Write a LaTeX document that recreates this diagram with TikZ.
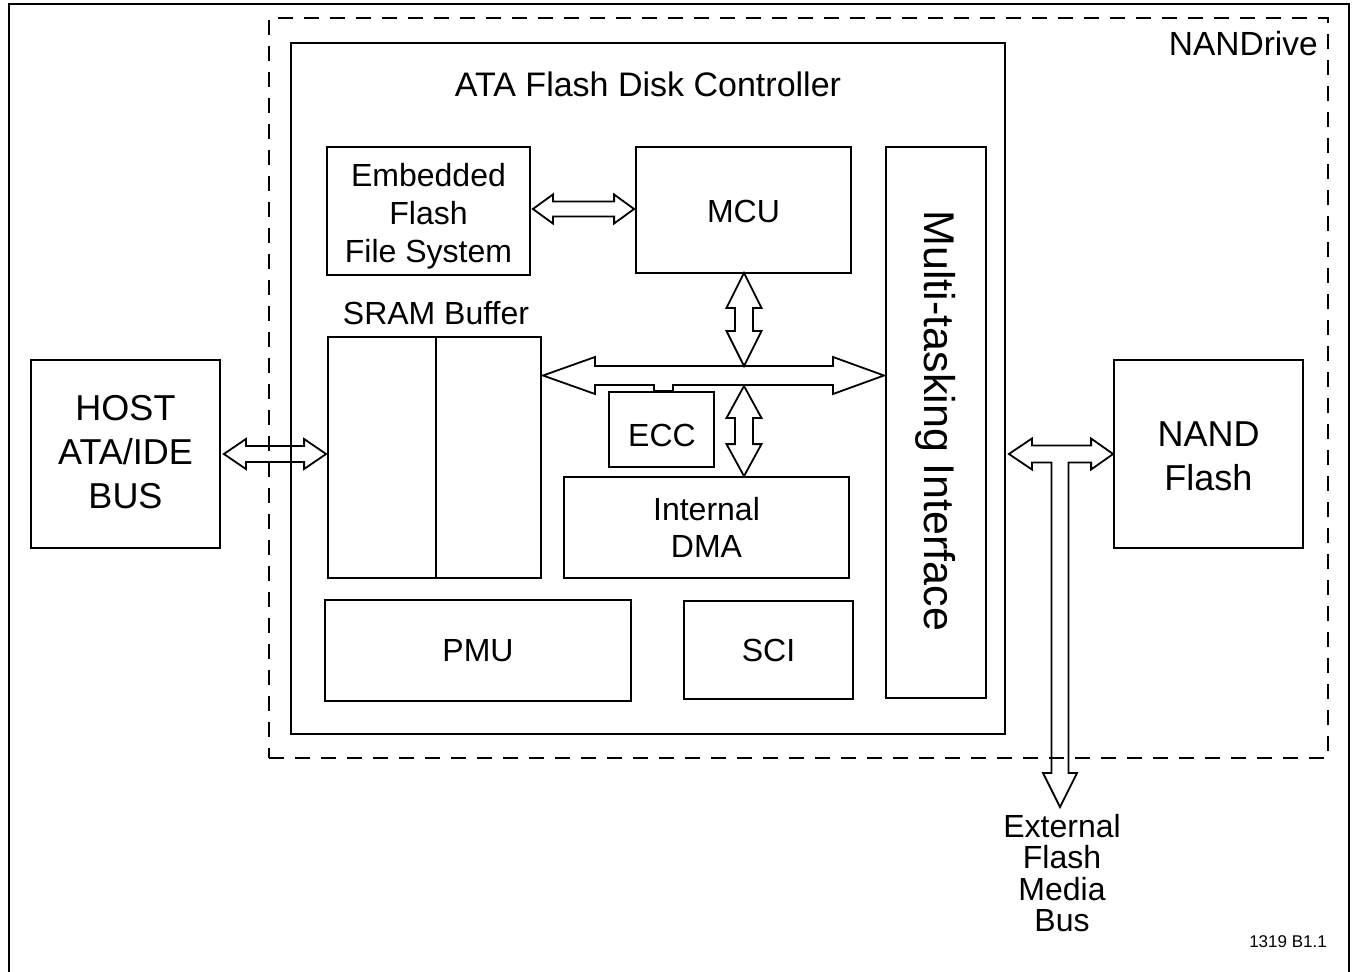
\documentclass[tikz,border=0pt]{standalone}
\usepackage{fontspec}
\setmainfont{Liberation Sans}
\usetikzlibrary{calc}
\newcommand\dblH[5]{\draw[hollow] let \p1=#1, \p2=#2 in
  (\x1,\y1) -- (\x1+#5,\y1+#4) -- (\x1+#5,\y1+#3) -- (\x2-#5,\y1+#3) -- (\x2-#5,\y1+#4) -- (\x2,\y1)
  -- (\x2-#5,\y1-#4) -- (\x2-#5,\y1-#3) -- (\x1+#5,\y1-#3) -- (\x1+#5,\y1-#4) -- cycle;}
\newcommand\dblV[5]{\draw[hollow] let \p1=#1, \p2=#2 in
  (\x1,\y1) -- (\x1+#4,\y1-#5) -- (\x1+#3,\y1-#5) -- (\x1+#3,\y2+#5) -- (\x1+#4,\y2+#5) -- (\x1,\y2)
  -- (\x1-#4,\y2+#5) -- (\x1-#3,\y2+#5) -- (\x1-#3,\y1-#5) -- (\x1-#4,\y1-#5) -- cycle;}
\begin{document}
\begin{tikzpicture}[x=1pt,y=-1pt,
  box/.style={draw, line width=1.8pt, inner sep=0pt, align=center, font=\fontsize{32}{38}\selectfont},
  bigbox/.style={box, font=\fontsize{36}{44}\selectfont},
  lbl/.style={inner sep=0pt, align=center, font=\fontsize{32}{38}\selectfont},
  dashbox/.style={draw, line width=2.5pt, dash pattern=on 15pt off 11pt, inner sep=0pt},
  hollow/.style={draw, line width=1.8pt, line join=miter},
]
\useasboundingbox (0,0) rectangle (1353,972);
\draw[line width=2.5pt] (9,4) rectangle (1349,980);

% NANDrive dashed boundary
\node[dashbox, minimum width=1059pt, minimum height=740pt] (nandrive) at (798.5,388) {};
\node[lbl, anchor=east, font=\fontsize{33.5}{38}\selectfont] (nandrivelbl) at (1318,44) {NANDrive};

% controller
\node[box, minimum width=714pt, minimum height=691pt] (ctrl) at (648,388.5) {};
\node[lbl, font=\fontsize{34}{40}\selectfont] (ctrllbl) at (648,84) {ATA Flash Disk Controller};

\node[box, minimum width=203pt, minimum height=128pt] (effs) at (428.5,211) {};
\node[lbl] (effslbl) at (428.5,216) {Embedded\\Flash\\File System};
\node[box, minimum width=215pt, minimum height=126pt] (mcu) at (743.5,210) {};
\node[lbl] (mculbl) at (743.5,211.5) {MCU};
\node[box, minimum width=100pt, minimum height=551pt] (mti) at (936,422.5) {};
\node[lbl, rotate=-90, font=\fontsize{43}{48}\selectfont] (mtilbl) at (936,421) {Multi-tasking Interface};

\node[lbl] (sramlbl) at (436,313) {SRAM Buffer};
\node[box, minimum width=213pt, minimum height=241pt] (sram) at (434.5,457.5) {};
\draw[line width=1.8pt] ($(sram.north)+(1.5,0)$) -- ($(sram.south)+(1.5,0)$);

\node[box, minimum width=105pt, minimum height=75pt] (ecc) at (661.5,429.5) {};
\node[lbl] (ecclbl) at (662,435) {ECC};
\node[box, minimum width=285pt, minimum height=101pt, font=\fontsize{32}{37}\selectfont] (dma) at (706.5,527.5) {Internal\\DMA};
\node[box, minimum width=306pt, minimum height=101pt] (pmu) at (478,650.5) {PMU};
\node[box, minimum width=169pt, minimum height=98pt] (sci) at (768.5,650) {SCI};

\node[bigbox, minimum width=189pt, minimum height=188pt] (host) at (125.5,454) {};
\node[lbl, font=\fontsize{36}{44}\selectfont] (hostlbl) at (125.5,452) {HOST\\ATA/IDE\\BUS};
\node[bigbox, minimum width=189pt, minimum height=188pt] (nand) at (1208.5,454) {};
\node[lbl, font=\fontsize{36}{44}\selectfont] (nandlbl) at (1208.5,456) {NAND\\Flash};

\node[lbl, font=\fontsize{32}{31.5}\selectfont] (ext) at (1062,873) {External\\Flash\\Media\\Bus};
\node[lbl, font=\fontsize{17}{20}\selectfont] (fig) at (1288,942) {1319 B1.1};

% connectors
\dblH{($(host.east)+(3,0)$)}{($(sram.west)+(-1,0)$)}{8pt}{15pt}{22pt}
\dblH{($(effs.east)+(2,-2)$)}{($(mcu.west)+(-1,0)$)}{7.5pt}{14.5pt}{20pt}

% internal bus with ECC tap
\coordinate (busL) at (543,375.5);
\coordinate (busR) at (884,375.5);
\coordinate (busTop) at (744,366);
\coordinate (busBot) at (744,386);
\draw[hollow] let \p1=(busL), \p2=(busR), \p3=(ecc.north) in
  (\x1,\y1) -- (\x1+52pt,\y1+18.5pt) -- (\x1+52pt,\y1+9.5pt) -- (\x2-51pt,\y1+9.5pt) -- (\x2-51pt,\y1+18.5pt)
  -- (\x2,\y1) -- (\x2-51pt,\y1-18.5pt) -- (\x2-51pt,\y1-9.5pt) -- (\x3+11.5pt,\y1-9.5pt) -- (\x3+11.5pt,\y3)
  -- (\x3-7.5pt,\y3) -- (\x3-7.5pt,\y1-9.5pt) -- (\x1+52pt,\y1-9.5pt) -- (\x1+52pt,\y1-18.5pt) -- cycle;
\dblV{($(mcu.south)+(0.5,-1)$)}{(busTop)}{9pt}{17.5pt}{35pt}
\dblV{(busBot)}{(dma.north)}{9pt}{17.5pt}{32pt}

% T-shaped connector to NAND flash and external bus
\coordinate (extTip) at (1060,807);
\draw[hollow] let \p1=($(mti.east)+(22,0)$), \p2=(nand.west), \p3=(extTip) in
  (\x1,\y2) -- (\x1+23pt,\y2+15.5pt) -- (\x1+23pt,\y2+8.5pt) -- (\x2-22pt,\y2+8.5pt) -- (\x2-22pt,\y2+15.5pt)
  -- (\x2,\y2) -- (\x2-22pt,\y2-15.5pt) -- (\x2-22pt,\y2-8.5pt) -- (\x3+8.5pt,\y2-8.5pt)
  -- (\x3+8.5pt,\y3+34pt) -- (\x3+17pt,\y3+34pt) -- (\x3,\y3) -- (\x3-17pt,\y3+34pt) -- (\x3-8.5pt,\y3+34pt)
  -- (\x3-8.5pt,\y2-8.5pt) -- (\x1+23pt,\y2-8.5pt) -- (\x1+23pt,\y2-15.5pt) -- cycle;
\end{tikzpicture}
\end{document}
